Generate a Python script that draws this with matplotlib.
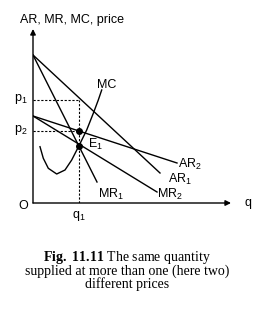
import matplotlib
matplotlib.use("Agg")
import matplotlib.pyplot as plt

plt.rcParams['font.family'] = ['Liberation Sans', 'DejaVu Sans']
plt.rcParams['mathtext.fontset'] = 'custom'
plt.rcParams['mathtext.rm'] = 'Liberation Sans'
plt.rcParams['mathtext.it'] = 'Liberation Sans'
plt.rcParams['mathtext.bf'] = 'Liberation Serif:bold'
plt.rcParams['mathtext.default'] = 'rm'

# curves (q, price)
ar1_q = [0.0, 12.7]
ar1_p = [14.8, 3.0]
mr1_q = [0.0, 6.4]
mr1_p = [14.8, 2.1]
ar2_q = [0.0, 14.4]
ar2_p = [8.7, 4.0]
mr2_q = [0.0, 12.4]
mr2_p = [8.7, 1.1]
mc_q = [0.7, 1.03, 1.53, 2.37, 3.2, 3.87, 4.6, 5.37, 6.03, 6.53, 6.87]
mc_p = [5.63, 4.47, 3.47, 2.9, 3.3, 4.3, 5.73, 7.3, 8.97, 10.3, 11.3]

q1 = 4.6
p1 = 10.3
p2 = 7.2
e1 = 5.73

fig = plt.figure(figsize=(2.6, 3.1), dpi=100)
ax = fig.add_axes([33 / 260, 107 / 310, 200 / 260, 175 / 310])
ax.set_xlim(0, 20)
ax.set_ylim(0, 17.5)
ax.axis('off')

# axes with arrows
ax.annotate('', xy=(19.8, 0), xytext=(0, 0),
            arrowprops=dict(arrowstyle='-|>', lw=1.0, color='black',
                            mutation_scale=8, shrinkA=0, shrinkB=0))
ax.annotate('', xy=(0, 17.4), xytext=(0, 0),
            arrowprops=dict(arrowstyle='-|>', lw=1.0, color='black',
                            mutation_scale=8, shrinkA=0, shrinkB=0))

lw = 1.0
ax.plot(ar1_q, ar1_p, color='black', lw=lw)
ax.plot(mr1_q, mr1_p, color='black', lw=lw)
ax.plot(ar2_q, ar2_p, color='black', lw=lw)
ax.plot(mr2_q, mr2_p, color='black', lw=lw)
ax.plot(mc_q, mc_p, color='black', lw=lw)

# dashed guides
dash = dict(color='black', lw=0.8, linestyle=(0, (2, 1.5)))
ax.plot([0, q1], [p1, p1], **dash)
ax.plot([0, q1], [p2, p2], **dash)
ax.plot([q1, q1], [0, p1], **dash)

ax.plot([q1, q1], [e1, p2], 'o', color='black', ms=4)

fs = 9
kw = dict(fontsize=fs, clip_on=False)
ax.text(-1.3, 18.3, 'AR, MR, MC, price', ha='left', va='center', **kw)
ax.text(-1.0, -0.3, 'O', ha='center', va='center', **kw)
ax.text(21.5, 0, 'q', ha='center', va='center', **kw)
ax.text(q1, -1.3, r'q$_1$', ha='center', va='center', **kw)
ax.text(-1.2, p1 + 0.1, r'p$_1$', ha='center', va='center', **kw)
ax.text(-1.2, p2 + 0.1, r'p$_2$', ha='center', va='center', **kw)
ax.text(7.4, 11.8, 'MC', ha='center', va='center', **kw)
ax.text(6.2, 5.9, r'E$_1$', ha='center', va='center', **kw)
ax.text(14.5, 3.9, r'AR$_2$', ha='left', va='center', **kw)
ax.text(13.5, 2.4, r'AR$_1$', ha='left', va='center', **kw)
ax.text(12.4, 0.9, r'MR$_2$', ha='left', va='center', **kw)
ax.text(6.5, 0.9, r'MR$_1$', ha='left', va='center', **kw)

# caption, one text block
caption = (r'$\mathbf{Fig.\ 11.11}$ The same quantity' + '\n'
           + 'supplied at more than one (here two)' + '\n'
           + 'different prices')
fig.text(0.49, 1 - 270 / 310, caption, ha='center', va='center',
         multialignment='center', linespacing=0.85,
         family=['Liberation Serif', 'DejaVu Serif'], fontsize=10)

fig.savefig('out.png', dpi=100)
